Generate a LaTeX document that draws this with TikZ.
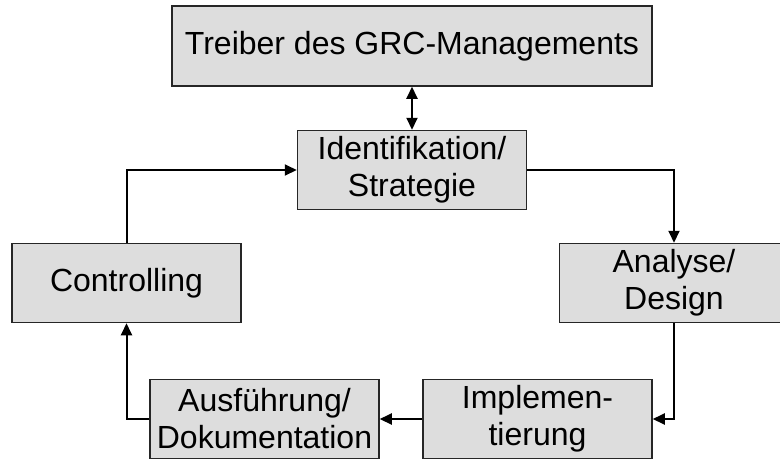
\documentclass[tikz,border=0pt]{standalone}
\usepackage{fontspec}
\setmainfont{Liberation Sans}
\usetikzlibrary{arrows.meta, positioning, calc}
\definecolor{boxgray}{RGB}{221,221,221}

\begin{document}
\begin{tikzpicture}[x=1pt, y=-1pt,
  phase/.style={draw=black!85, fill=boxgray, line width=1.5pt, minimum width=229pt, minimum height=79pt,
    align=center, inner sep=0pt, font=\fontsize{32}{37}\selectfont},
  flow/.style={line width=2pt, -{Triangle[length=12pt, width=11pt]}}]
  \useasboundingbox (0,0) rectangle (780,459);

  % driver on top, cycle below
  \node[phase, minimum width=480pt, minimum height=80pt] (treiber) at (412,46) {Treiber des GRC-Managements};
  \node[phase] (ident) at (412,170) {Identifikation/\\Strategie};
  \node[phase] (analyse) at (674,283) {Analyse/\\Design};
  \node[phase] (implement) at (537.5,419) {Implemen-\\tierung};
  \node[phase] (ausfuehrung) at (264.5,419) {Ausführung/\\Dokumentation};
  \node[phase] (controlling) at (126.5,283) {Controlling};

  \draw[flow, {Triangle[length=12pt, width=11pt]}-{Triangle[length=12pt, width=11pt]}] (treiber) -- (ident);
  \draw[flow] (ident) -| (analyse);
  \draw[flow] (analyse) |- (implement);
  \draw[flow] (implement) -- (ausfuehrung);
  \draw[flow] (ausfuehrung) -| (controlling);
  \draw[flow] (controlling) |- (ident);
\end{tikzpicture}
\end{document}
